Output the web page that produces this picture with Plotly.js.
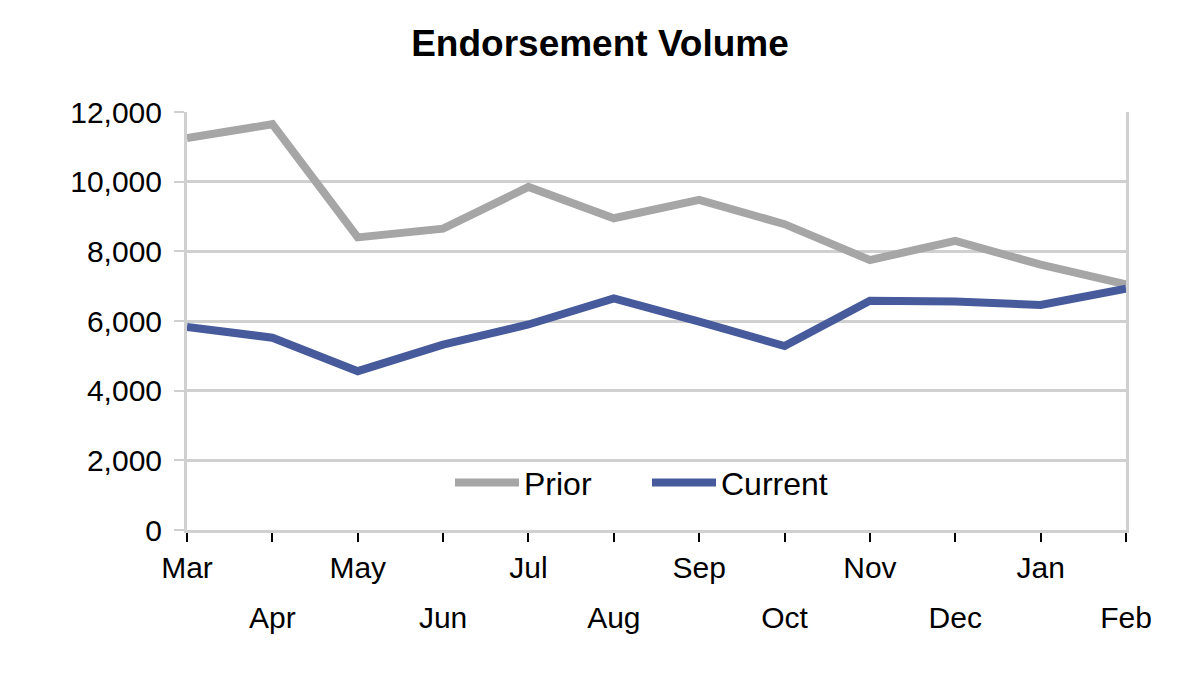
<!DOCTYPE html>
<html>
<head>
<meta charset="utf-8">
<script src="https://cdn.plot.ly/plotly-3.0.1.min.js"></script>
<style>html,body{margin:0;padding:0;background:#fff;}#chart{width:1200px;height:675px;}</style>
</head>
<body>
<div id="chart"></div>
<script>
const months = ["Mar","Apr","May","Jun","Jul","Aug","Sep","Oct","Nov","Dec","Jan","Feb"];
const prior = [11250, 11650, 8400, 8650, 9850, 8950, 9480, 8780, 7750, 8300, 7620, 7050];
const current = [5830, 5520, 4560, 5320, 5900, 6650, 5980, 5280, 6580, 6560, 6460, 6930];
const yTickVals = [0, 2000, 4000, 6000, 8000, 10000, 12000];
const yTickText = ["0", "2,000", "4,000", "6,000", "8,000", "10,000", "12,000"];

const evenIdx = months.map((m, i) => i).filter(i => i % 2 === 1);

const font = "Liberation Sans, Arial, sans-serif";
const gridColor = "#d0d0d0";

const traces = [
  {x: months, y: prior, name: "Prior", type: "scatter", mode: "lines",
   line: {color: "#a6a6a6", width: 8}, cliponaxis: false},
  {x: months, y: current, name: "Current", type: "scatter", mode: "lines",
   line: {color: "#465a9c", width: 8}, cliponaxis: false}
];

const layout = {
  width: 1200, height: 675,
  paper_bgcolor: "#fff", plot_bgcolor: "#fff",
  margin: {l: 187, r: 74, t: 112, b: 145},
  font: {family: font, size: 30, color: "#000"},
  title: {text: "<b>Endorsement Volume</b>", font: {family: font, size: 37, color: "#000"},
          x: 0.5, xref: "container", xanchor: "center", y: 1 - 43/675, yref: "container", yanchor: "middle"},
  showlegend: true,
  legend: {orientation: "h", x: (450 - 187) / 939, xanchor: "left", y: 0.113, yanchor: "middle",
           font: {family: font, size: 32, color: "#000"}, bgcolor: "rgba(0,0,0,0)",
           itemwidth: 64, entrywidth: 118, entrywidthmode: "pixels", traceorder: "normal"},
  xaxis: {
    type: "category", range: [0, 11], fixedrange: true,
    showgrid: false, zeroline: false,
    showline: true, linecolor: gridColor, linewidth: 3,
    ticks: "outside", ticklen: 9, tickwidth: 2, tickcolor: "#000",
    tickvals: months, ticktext: months.map((m, i) => i % 2 === 0 ? m : ""),
    ticklabelstandoff: 0,
    tickfont: {family: font, size: 30, color: "#000"}
  },
  xaxis2: {
    overlaying: "x", side: "bottom", anchor: "y", type: "linear", range: [0, 11],
    showgrid: false, zeroline: false, showline: false, ticks: "",
    tickvals: evenIdx, ticktext: evenIdx.map(i => months[i]),
    ticklabelstandoff: 67,
    tickfont: {family: font, size: 30, color: "#000"}
  },
  yaxis: {
    range: [0, 12000], fixedrange: true,
    showgrid: true, gridcolor: gridColor, gridwidth: 3,
    zeroline: false,
    showline: true, linecolor: gridColor, linewidth: 3, mirror: true,
    ticks: "outside", ticklen: 10, tickwidth: 2, tickcolor: gridColor,
    tickvals: yTickVals, ticktext: yTickText,
    ticklabelstandoff: 6,
    tickfont: {family: font, size: 30, color: "#000"}
  }
};

// invisible helper trace so the second (even-month label) axis is drawn
traces.push({x: [0, 11], y: [null, null], xaxis: "x2", yaxis: "y", type: "scatter",
             mode: "lines", showlegend: false, hoverinfo: "skip"});

Plotly.newPlot("chart", traces, layout, {staticPlot: true, displayModeBar: false});
</script>
</body>
</html>
